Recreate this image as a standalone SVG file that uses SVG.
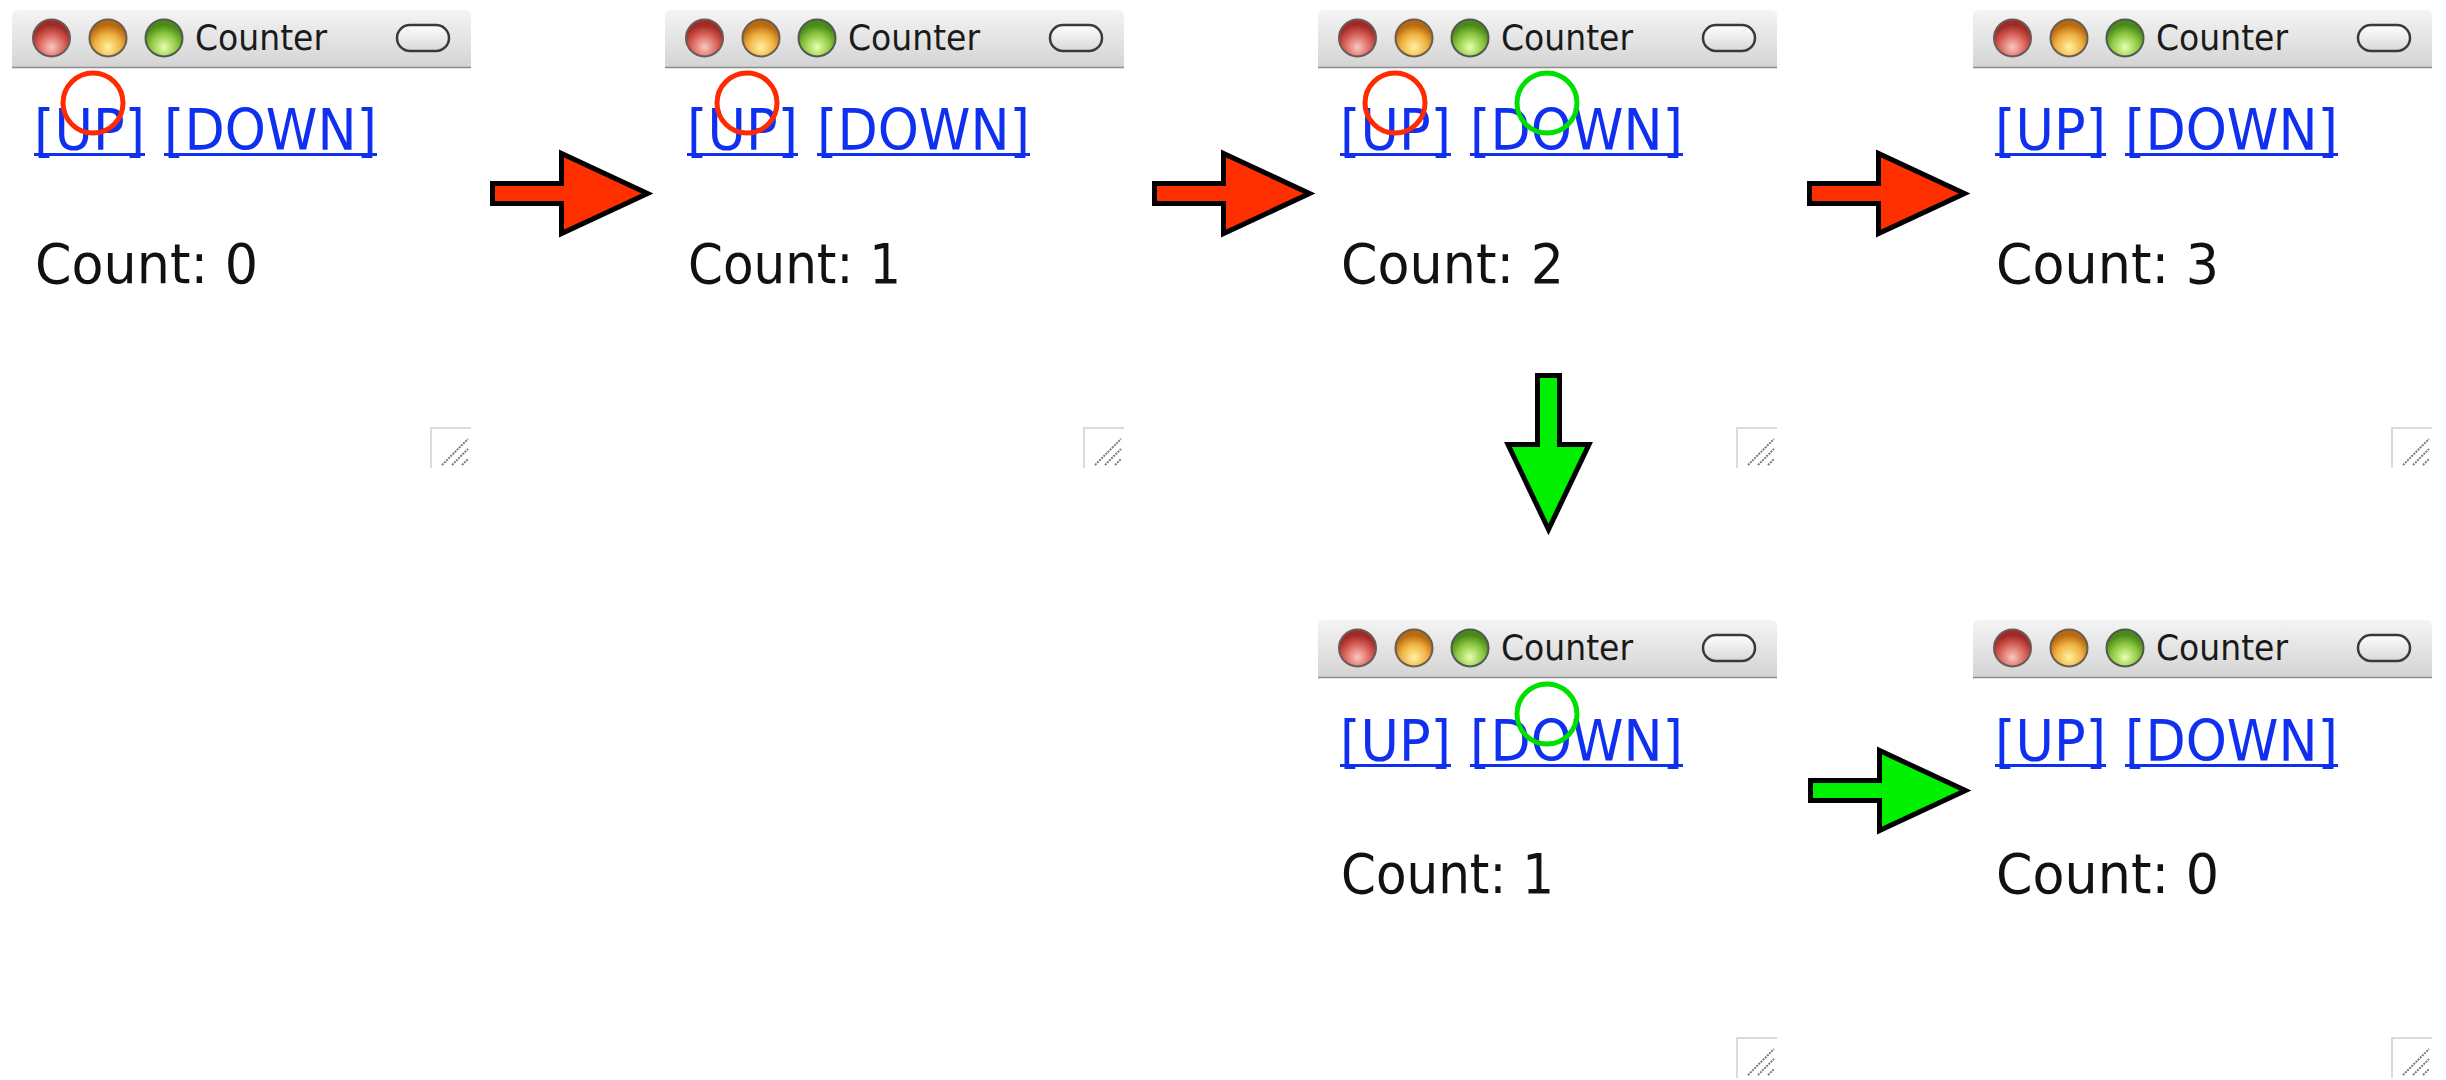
<svg xmlns="http://www.w3.org/2000/svg" xmlns:xlink="http://www.w3.org/1999/xlink" width="2446" height="1080" viewBox="0 0 2446 1080">
<style>
.title{font-family:"DejaVu Sans","Liberation Sans",sans-serif;font-size:35px;fill:#1a1a1a}
.link{font-family:"DejaVu Sans","Liberation Sans",sans-serif;font-size:57px;fill:#1030f0}
.ul{stroke:#1030f0;stroke-width:3}
.count{font-family:"DejaVu Sans","Liberation Sans",sans-serif;font-size:55px;fill:#111}
.clickR{fill:none;stroke:#ff2a00;stroke-width:5}
.clickG{fill:none;stroke:#00e000;stroke-width:5}
.arrR{fill:#ff3000;stroke:#000;stroke-width:5;stroke-linejoin:miter}
.arrG{fill:#00f000;stroke:#000;stroke-width:5;stroke-linejoin:miter}
</style>
<defs>
<linearGradient id="tb" x1="0" y1="0" x2="0" y2="1">
<stop offset="0" stop-color="#f4f4f4"/><stop offset="1" stop-color="#d4d4d4"/>
</linearGradient>
<radialGradient id="lr" cx="0.5" cy="0.75" r="0.6">
<stop offset="0" stop-color="#f8c8c0"/><stop offset="0.6" stop-color="#d86058"/><stop offset="1" stop-color="#a02a25"/>
</radialGradient>
<radialGradient id="lo" cx="0.5" cy="0.75" r="0.6">
<stop offset="0" stop-color="#fff2a0"/><stop offset="0.6" stop-color="#f0b040"/><stop offset="1" stop-color="#b86a10"/>
</radialGradient>
<radialGradient id="lg" cx="0.5" cy="0.75" r="0.6">
<stop offset="0" stop-color="#e8ffb0"/><stop offset="0.6" stop-color="#8cc840"/><stop offset="1" stop-color="#4a8a1a"/>
</radialGradient>
<linearGradient id="pill" x1="0" y1="0" x2="0" y2="1">
<stop offset="0" stop-color="#ffffff"/><stop offset="1" stop-color="#d8d8d8"/>
</linearGradient>
<g id="frame">
<rect x="0" y="0" width="459" height="458" fill="#fff"/>
<path d="M0,57 V6 Q0,0 6,0 H453 Q459,0 459,6 V57 Z" fill="url(#tb)"/>
<line x1="0" y1="57.5" x2="459" y2="57.5" stroke="#8c8c8c" stroke-width="1.5"/>
<circle cx="39.5" cy="28" r="18.5" fill="url(#lr)" stroke="#6a5a58" stroke-width="2"/>
<circle cx="96" cy="28" r="18.5" fill="url(#lo)" stroke="#6a5e50" stroke-width="2"/>
<circle cx="152" cy="28" r="18.5" fill="url(#lg)" stroke="#505a50" stroke-width="2"/>
<rect x="385" y="15" width="52" height="26" rx="13" fill="url(#pill)" stroke="#3a3a3a" stroke-width="2.5"/>
<path d="M419,458 V418 H459" fill="none" stroke="#d0d0d0" stroke-width="1.5"/>
<path d="M430,455 L456,429 M440,455 L456,439 M450,455 L456,449" fill="none" stroke="#7a7a7a" stroke-width="2" stroke-dasharray="2 1"/>
</g>
</defs>
<rect width="2446" height="1080" fill="#fff"/>

<g id="win1" transform="translate(12,10)">
<use xlink:href="#frame"/>
<text class="title" x="183" y="40" textLength="132" lengthAdjust="spacingAndGlyphs">Counter</text>
<text class="link" x="22" y="140" textLength="111" lengthAdjust="spacingAndGlyphs">[UP]</text>
<text class="link" x="152" y="140" textLength="213" lengthAdjust="spacingAndGlyphs">[DOWN]</text>
<line class="ul" x1="22" y1="144.5" x2="133" y2="144.5"/>
<line class="ul" x1="152" y1="144.5" x2="365" y2="144.5"/>
<text class="count" x="23" y="273" textLength="223" lengthAdjust="spacingAndGlyphs">Count: 0</text>
<circle class="clickR" cx="81" cy="93" r="30"/>
</g>

<g id="win2" transform="translate(665,10)">
<use xlink:href="#frame"/>
<text class="title" x="183" y="40" textLength="132" lengthAdjust="spacingAndGlyphs">Counter</text>
<text class="link" x="22" y="140" textLength="111" lengthAdjust="spacingAndGlyphs">[UP]</text>
<text class="link" x="152" y="140" textLength="213" lengthAdjust="spacingAndGlyphs">[DOWN]</text>
<line class="ul" x1="22" y1="144.5" x2="133" y2="144.5"/>
<line class="ul" x1="152" y1="144.5" x2="365" y2="144.5"/>
<text class="count" x="23" y="273" textLength="213" lengthAdjust="spacingAndGlyphs">Count: 1</text>
<circle class="clickR" cx="82" cy="93" r="30"/>
</g>

<g id="win3" transform="translate(1318,10)">
<use xlink:href="#frame"/>
<text class="title" x="183" y="40" textLength="132" lengthAdjust="spacingAndGlyphs">Counter</text>
<text class="link" x="22" y="140" textLength="111" lengthAdjust="spacingAndGlyphs">[UP]</text>
<text class="link" x="152" y="140" textLength="213" lengthAdjust="spacingAndGlyphs">[DOWN]</text>
<line class="ul" x1="22" y1="144.5" x2="133" y2="144.5"/>
<line class="ul" x1="152" y1="144.5" x2="365" y2="144.5"/>
<text class="count" x="23" y="273" textLength="223" lengthAdjust="spacingAndGlyphs">Count: 2</text>
<circle class="clickR" cx="77" cy="93" r="30"/>
<circle class="clickG" cx="229" cy="93" r="30"/>
</g>

<g id="win4" transform="translate(1973,10)">
<use xlink:href="#frame"/>
<text class="title" x="183" y="40" textLength="132" lengthAdjust="spacingAndGlyphs">Counter</text>
<text class="link" x="22" y="140" textLength="111" lengthAdjust="spacingAndGlyphs">[UP]</text>
<text class="link" x="152" y="140" textLength="213" lengthAdjust="spacingAndGlyphs">[DOWN]</text>
<line class="ul" x1="22" y1="144.5" x2="133" y2="144.5"/>
<line class="ul" x1="152" y1="144.5" x2="365" y2="144.5"/>
<text class="count" x="23" y="273" textLength="223" lengthAdjust="spacingAndGlyphs">Count: 3</text>
</g>

<g id="win5" transform="translate(1318,620)">
<use xlink:href="#frame"/>
<text class="title" x="183" y="40" textLength="132" lengthAdjust="spacingAndGlyphs">Counter</text>
<text class="link" x="22" y="141" textLength="111" lengthAdjust="spacingAndGlyphs">[UP]</text>
<text class="link" x="152" y="141" textLength="213" lengthAdjust="spacingAndGlyphs">[DOWN]</text>
<line class="ul" x1="22" y1="145.5" x2="133" y2="145.5"/>
<line class="ul" x1="152" y1="145.5" x2="365" y2="145.5"/>
<text class="count" x="23" y="273" textLength="213" lengthAdjust="spacingAndGlyphs">Count: 1</text>
<circle class="clickG" cx="229" cy="94" r="30"/>
</g>

<g id="win6" transform="translate(1973,620)">
<use xlink:href="#frame"/>
<text class="title" x="183" y="40" textLength="132" lengthAdjust="spacingAndGlyphs">Counter</text>
<text class="link" x="22" y="141" textLength="111" lengthAdjust="spacingAndGlyphs">[UP]</text>
<text class="link" x="152" y="141" textLength="213" lengthAdjust="spacingAndGlyphs">[DOWN]</text>
<line class="ul" x1="22" y1="145.5" x2="133" y2="145.5"/>
<line class="ul" x1="152" y1="145.5" x2="365" y2="145.5"/>
<text class="count" x="23" y="273" textLength="223" lengthAdjust="spacingAndGlyphs">Count: 0</text>
</g>

<g id="connectors">
<polygon class="arrR" transform="translate(492.5,193.5)" points="0,-10 69,-10 69,-40 155,0 69,40 69,10 0,10"/>
<polygon class="arrR" transform="translate(1154.5,193.5)" points="0,-10 69,-10 69,-40 155,0 69,40 69,10 0,10"/>
<polygon class="arrR" transform="translate(1809.5,193.5)" points="0,-10 69,-10 69,-40 155,0 69,40 69,10 0,10"/>
<polygon class="arrG" transform="translate(1548.5,375.5)" points="-11,0 11,0 11,69 40.5,69 0,154 -40.5,69 -11,69"/>
<polygon class="arrG" transform="translate(1810.5,790.5)" points="0,-10 69,-10 69,-40 155,0 69,40 69,10 0,10"/>
</g>
</svg>
